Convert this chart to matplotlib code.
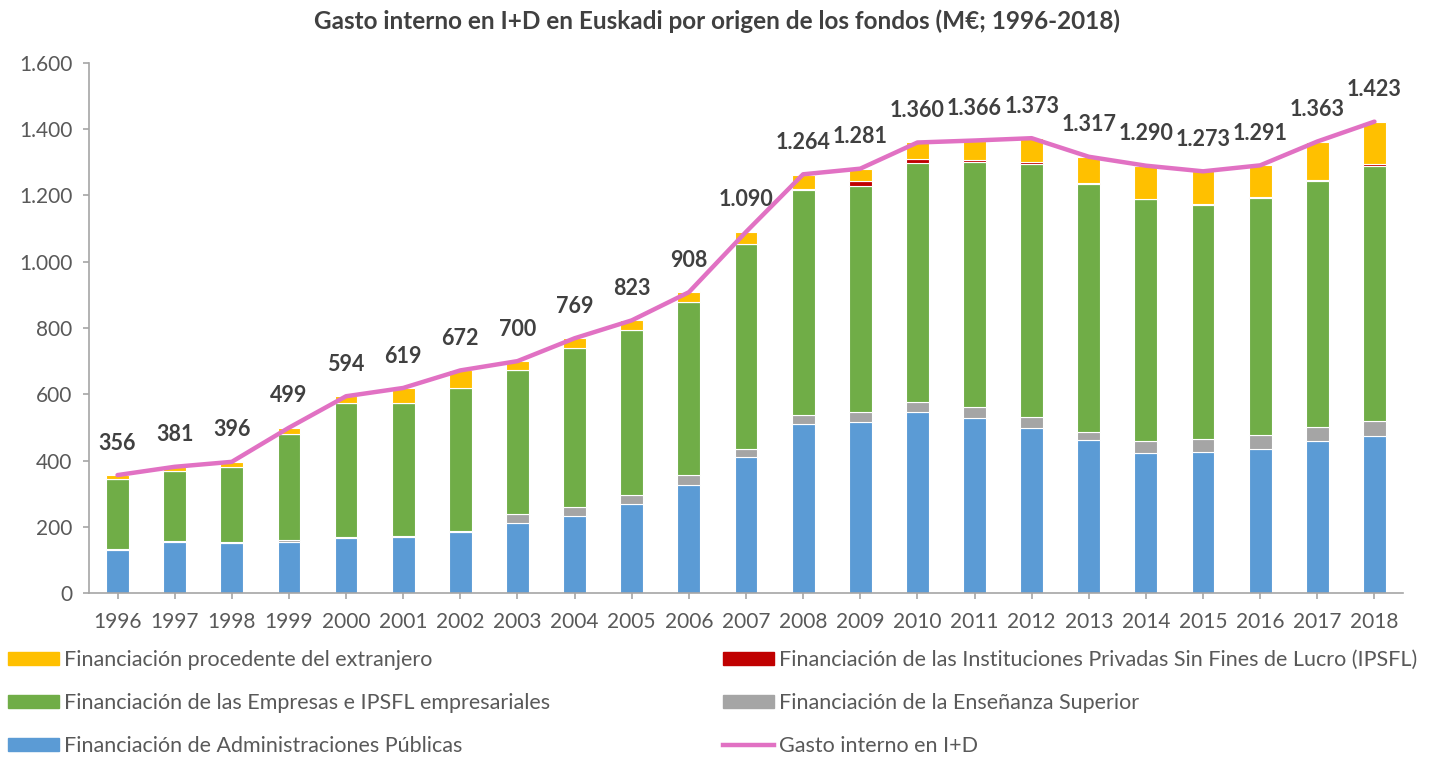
import matplotlib
matplotlib.use("Agg")
import matplotlib.pyplot as plt
import numpy as np
from matplotlib.patches import Patch
from matplotlib.lines import Line2D
from matplotlib.ticker import FuncFormatter

plt.rcParams['font.family'] = ['Lato', 'DejaVu Sans']

years = [str(y) for y in range(1996, 2019)]
admin = [130, 153, 150, 155, 165, 168, 185, 212, 232, 269, 325, 412, 510, 515, 546, 529, 497, 462, 422, 427, 435, 460, 474]
ensenanza = [3, 3, 3, 4, 4, 3, 2, 27, 27, 26, 30, 23, 27, 31, 30, 33, 34, 23, 37, 38, 41, 41, 45]
empresas = [211, 212, 228, 322, 406, 404, 431, 434, 480, 499, 523, 618, 680, 683, 722, 738, 765, 749, 730, 705, 716, 742, 769]
ipsfl = [0, 0, 0, 0, 0, 0, 0, 0, 0, 0, 0, 0, 2, 14, 13, 6, 6, 3, 1, 3, 4, 4, 8]
extranjero = [12, 13, 15, 18, 19, 44, 54, 27, 30, 29, 30, 37, 44, 38, 49, 60, 71, 80, 100, 100, 95, 116, 127]
gasto_total = [356, 381, 396, 499, 594, 619, 672, 700, 769, 823, 908, 1090, 1264, 1281, 1360, 1366, 1373, 1317, 1290, 1273, 1291, 1363, 1423]

c_admin = '#5B9BD5'
c_ens = '#A5A5A5'
c_emp = '#70AD47'
c_ipsfl = '#C00000'
c_ext = '#FFC000'
c_line = '#E171C3'
txt = '#404040'
tick_c = '#595959'

fig = plt.figure(figsize=(14.35, 7.59), dpi=100)
ax = fig.add_axes([0.062, 0.2187, 0.9157, 0.6983])

x = np.arange(len(years))
w = 0.4
bottom = np.zeros(len(years))
for vals, col in [(admin, c_admin), (ensenanza, c_ens), (empresas, c_emp), (ipsfl, c_ipsfl), (extranjero, c_ext)]:
    v = np.array(vals, dtype=float)
    ax.bar(x, v, w, bottom=bottom, color=col, edgecolor='white', linewidth=0.8, zorder=2)
    bottom += v

ax.plot(x, gasto_total, color=c_line, linewidth=3.2, zorder=3, solid_capstyle='round')

def fmt(v):
    return f"{v:,}".replace(',', '.')

for xi, v in zip(x, gasto_total):
    ax.annotate(fmt(v), (xi, v), xytext=(0, 23), textcoords='offset points',
                ha='center', va='center', fontsize=15.5, fontweight='bold', color=txt, zorder=4)

ax.set_xlim(-0.5, len(years) - 0.5)
ax.set_ylim(0, 1600)
ax.set_yticks(range(0, 1601, 200))
ax.yaxis.set_major_formatter(FuncFormatter(lambda v, p: fmt(int(v))))
ax.set_xticks(x)
ax.set_xticklabels(years)
ax.tick_params(axis='both', labelsize=15, colors=tick_c, color='#A6A6A6', width=1.2)
ax.tick_params(axis='y', length=4, pad=8)
ax.tick_params(axis='x', length=4, pad=10)
for s in ['top', 'right']:
    ax.spines[s].set_visible(False)
for s in ['left', 'bottom']:
    ax.spines[s].set_color('#A6A6A6')
    ax.spines[s].set_linewidth(1.2)

fig.text(0.5, 0.972, 'Gasto interno en I+D en Euskadi por origen de los fondos (M€; 1996-2018)',
         ha='center', va='center', fontsize=17.5, fontweight='bold', color=txt)

left_handles = [Patch(color=c_ext), Patch(color=c_emp), Patch(color=c_admin)]
left_labels = ['Financiación procedente del extranjero',
               'Financiación de las Empresas e IPSFL empresariales',
               'Financiación de Administraciones Públicas']
right_handles = [Patch(color=c_ipsfl), Patch(color=c_ens), Line2D([0], [0], color=c_line, lw=3.2)]
right_labels = ['Financiación de las Instituciones Privadas Sin Fines de Lucro (IPSFL)',
                'Financiación de la Enseñanza Superior',
                'Gasto interno en I+D']

common = dict(frameon=False, fontsize=15.5, handlelength=2.35, handleheight=0.56,
              labelspacing=1.07, handletextpad=0.25, borderaxespad=0, borderpad=0)
leg1 = fig.legend(left_handles, left_labels, loc='upper left', bbox_to_anchor=(0.0056, 0.144), labelcolor=tick_c, **common)
leg2 = fig.legend(right_handles, right_labels, loc='upper left', bbox_to_anchor=(0.5038, 0.144), labelcolor=tick_c, **common)

fig.savefig('out.png', dpi=100)
